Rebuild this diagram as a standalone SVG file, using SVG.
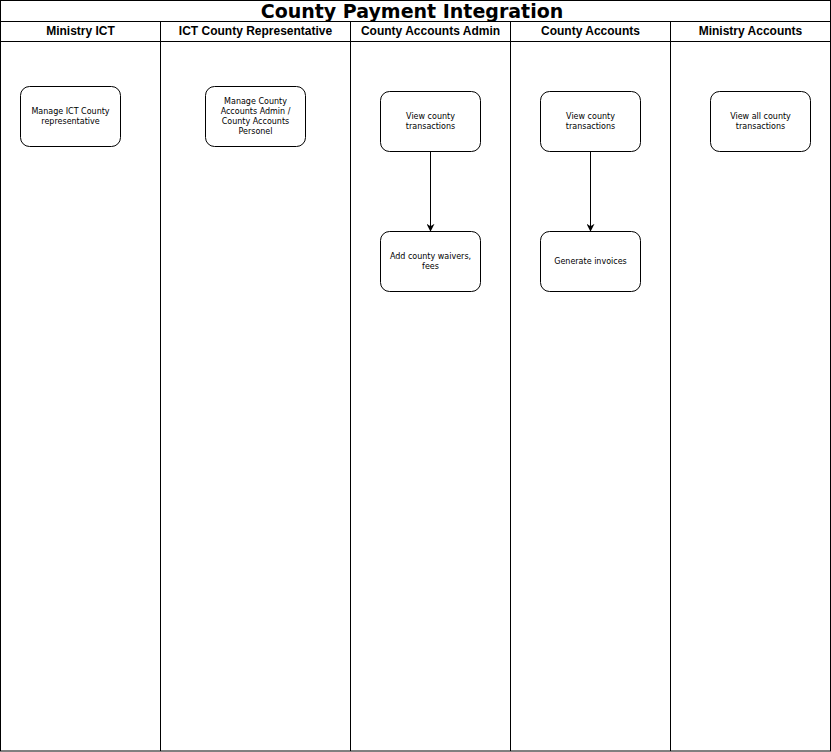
<svg xmlns="http://www.w3.org/2000/svg" width="831" height="752" viewBox="0 0 831 752">
<defs>
<style>
.ln{fill:none;stroke:#000;stroke-width:1}
.nd{fill:#fff;stroke:#000;stroke-width:1}
.tt{font-family:"DejaVu Sans",Verdana,sans-serif;font-weight:bold;font-size:19px;text-anchor:middle}
.hd{font-family:"Liberation Sans",Arial,sans-serif;font-weight:bold;font-size:12px;text-anchor:middle}
.tx{font-family:"DejaVu Sans",Verdana,sans-serif;font-size:8px;text-anchor:middle}
</style>
<marker id="ah" viewBox="0 0 10 10" refX="9" refY="5" markerWidth="8" markerHeight="8" markerUnits="userSpaceOnUse" orient="auto">
<path d="M0,0 L10,5 L0,10 L3,5 Z" fill="#000"/>
</marker>
</defs>
<rect x="0" y="0" width="831" height="752" fill="#fff"/>
<g id="pool">
<rect class="ln" x="0.5" y="0.5" width="830" height="750.5"/>
<line class="ln" x1="0.5" y1="21.5" x2="830.5" y2="21.5"/>
<line class="ln" x1="0.5" y1="41.5" x2="830.5" y2="41.5"/>
<line class="ln" x1="160.5" y1="21.5" x2="160.5" y2="751"/>
<line class="ln" x1="350.5" y1="21.5" x2="350.5" y2="751"/>
<line class="ln" x1="510.5" y1="21.5" x2="510.5" y2="751"/>
<line class="ln" x1="670.5" y1="21.5" x2="670.5" y2="751"/>
<text class="tt" x="412" y="18">County Payment Integration</text>
<text class="hd" x="80.5" y="35">Ministry ICT</text>
<text class="hd" x="255.5" y="35">ICT County Representative</text>
<text class="hd" x="430.5" y="35">County Accounts Admin</text>
<text class="hd" x="590.5" y="35">County Accounts</text>
<text class="hd" x="750.5" y="35">Ministry Accounts</text>
</g>
<g id="n1"><rect class="nd" x="20.5" y="86.5" width="100" height="60" rx="9"/>
<text class="tx" x="70.5" y="114">Manage ICT County</text><text class="tx" x="70.5" y="124">representative</text></g>
<g id="n2"><rect class="nd" x="205.5" y="86.5" width="100" height="60" rx="9"/>
<text class="tx" x="255.5" y="104">Manage County</text><text class="tx" x="255.5" y="114">Accounts Admin /</text><text class="tx" x="255.5" y="124">County Accounts</text><text class="tx" x="255.5" y="134">Personel</text></g>
<g id="n3"><rect class="nd" x="380.5" y="91.5" width="100" height="60" rx="9"/>
<text class="tx" x="430.5" y="119">View county</text><text class="tx" x="430.5" y="129">transactions</text></g>
<g id="n4"><rect class="nd" x="540.5" y="91.5" width="100" height="60" rx="9"/>
<text class="tx" x="590.5" y="119">View county</text><text class="tx" x="590.5" y="129">transactions</text></g>
<g id="n5"><rect class="nd" x="710.5" y="91.5" width="100" height="60" rx="9"/>
<text class="tx" x="760.5" y="119">View all county</text><text class="tx" x="760.5" y="129">transactions</text></g>
<g id="n6"><rect class="nd" x="380.5" y="231.5" width="100" height="60" rx="9"/>
<text class="tx" x="430.5" y="259">Add county waivers,</text><text class="tx" x="430.5" y="269">fees</text></g>
<g id="n7"><rect class="nd" x="540.5" y="231.5" width="100" height="60" rx="9"/>
<text class="tx" x="590.5" y="264">Generate invoices</text></g>
<g id="edges">
<line class="ln" x1="430.5" y1="151.5" x2="430.5" y2="231" marker-end="url(#ah)"/>
<line class="ln" x1="590.5" y1="151.5" x2="590.5" y2="231" marker-end="url(#ah)"/>
</g>
</svg>
